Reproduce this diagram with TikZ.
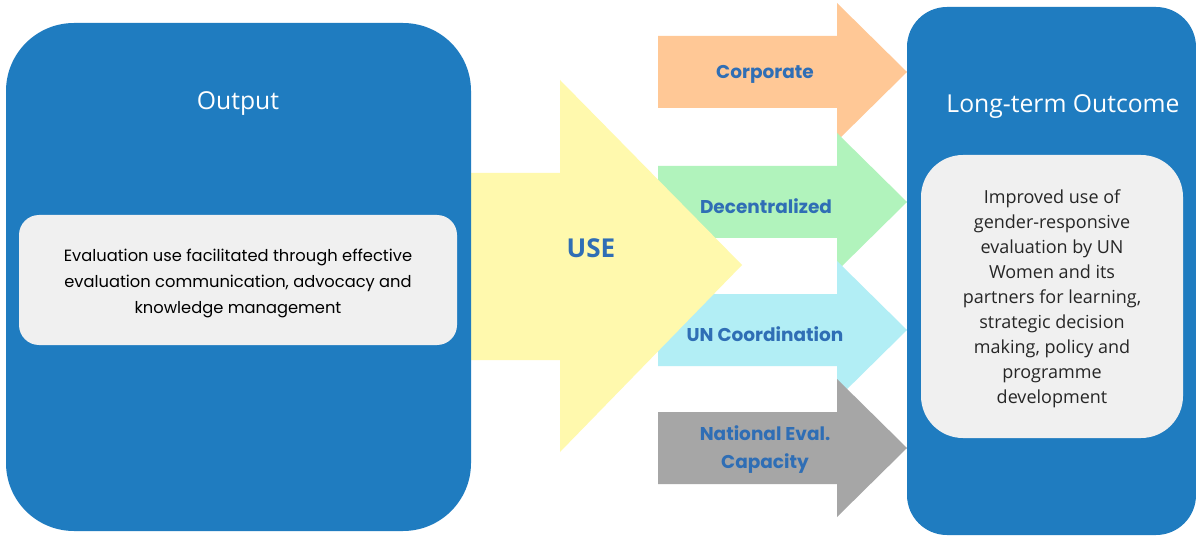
\documentclass[tikz,border=0pt]{standalone}
\usepackage{fontspec}
\setmainfont{Open Sans}
\newfontfamily\geofont{Poppins}
\begin{document}
\begin{tikzpicture}[x=1pt,y=-1pt]
\definecolor{bluebox}{HTML}{1F7CC0}
\definecolor{panel}{HTML}{F0F0F0}
\definecolor{useyellow}{HTML}{FFF9AD}
\definecolor{corp}{HTML}{FFC896}
\definecolor{decen}{HTML}{B1F3BC}
\definecolor{uncoord}{HTML}{B2EEF5}
\definecolor{natgray}{HTML}{A6A6A6}
\definecolor{lbl}{HTML}{2F6EB5}
\tikzset{
  bigbox/.style={fill=bluebox, draw=none, inner sep=0pt},
  innerpanel/.style={fill=panel, draw=none, inner sep=0pt},
  boxtitle/.style={text=white, font=\fontsize{24.7}{28}\selectfont, inner sep=0pt},
  arrowlbl/.style={text=lbl, font=\geofont\bfseries\fontsize{18.5}{28}\selectfont, align=center, inner sep=0pt},
  arrowfill/.style={draw=none},
}
\useasboundingbox (0,0) rectangle (1196,537);
\fill[white] (0,0) rectangle (1196,537);
% right arrows
\fill[arrowfill, corp] (658,36) -- (837,36) -- (837,3) -- (907,72) -- (837,141) -- (837,108) -- (658,108) -- cycle;
\fill[arrowfill, decen] (658,166) -- (837,166) -- (837,133) -- (907,202) -- (837,271) -- (837,238) -- (658,238) -- cycle;
\fill[arrowfill, uncoord] (658,294) -- (837,294) -- (837,261) -- (907,330) -- (837,399) -- (837,366) -- (658,366) -- cycle;
\fill[arrowfill, natgray] (658,412) -- (837,412) -- (837,379) -- (907,448) -- (837,517) -- (837,484) -- (658,484) -- cycle;
% USE arrow
\fill[arrowfill, useyellow] (460,173) -- (560,173) -- (560,80) -- (742,265) -- (560,452) -- (560,360) -- (460,360) -- cycle;
% boxes
\node[bigbox, rounded corners=68pt, minimum width=465pt, minimum height=508pt] (out) at (238.5,277) {};
\node[innerpanel, rounded corners=20pt, minimum width=438pt, minimum height=130pt] (outpanel) at (238,280) {};
\node[bigbox, rounded corners=40pt, minimum width=289pt, minimum height=528pt] (ltc) at (1051.5,271) {};
\node[innerpanel, rounded corners=42pt, minimum width=262pt, minimum height=283pt] (ltcpanel) at (1052,296.5) {};
% titles
\node[boxtitle] (outtitle) at (238,104) {Output};
\node[boxtitle] (ltctitle) at (1063,107) {Long-term Outcome};
% panel texts
\node[font=\geofont\fontsize{16.3}{26}\selectfont, align=center, inner sep=0pt, text=black] (outtext) at (238,283)
  {Evaluation use facilitated through effective\\evaluation communication, advocacy and\\knowledge management};
\node[font=\fontsize{18}{25}\selectfont, align=center, inner sep=0pt, text=black!85] (ltctext) at (1052,299)
  {Improved use of\\gender-responsive\\evaluation by UN\\Women and its\\partners for learning,\\strategic decision\\making, policy and\\programme\\development};
% labels
\node[text=lbl, font=\bfseries\fontsize{26}{30}\selectfont, inner sep=0pt] (use) at (591,248) {USE};
\node[arrowlbl] (lcorp) at (765,74) {Corporate};
\node[arrowlbl] (ldecen) at (766,206) {Decentralized};
\node[arrowlbl] (lun) at (765,334) {UN Coordination};
\node[arrowlbl, font=\geofont\bfseries\fontsize{18.5}{28}\selectfont] (lnat) at (765,450) {National Eval.\\Capacity};
\end{tikzpicture}
\end{document}
